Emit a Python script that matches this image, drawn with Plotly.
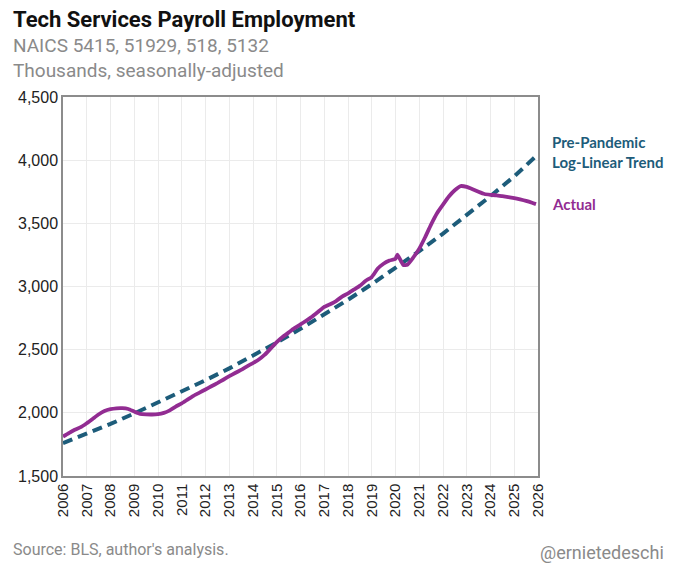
import plotly.graph_objects as go

# Actual tech services payroll employment, thousands
actual_dates = [
    "2006-01-01", "2006-04-01", "2006-07-01", "2006-10-01",
    "2007-01-01", "2007-04-01", "2007-07-01", "2007-10-01",
    "2008-01-01", "2008-04-01", "2008-07-01", "2008-10-01",
    "2009-01-01", "2009-04-01", "2009-07-01", "2009-10-01",
    "2010-01-01", "2010-04-01", "2010-07-01", "2010-10-01",
    "2011-01-01", "2011-04-01", "2011-07-01", "2011-10-01",
    "2012-01-01", "2012-04-01", "2012-07-01", "2012-10-01",
    "2013-01-01", "2013-04-01", "2013-07-01", "2013-10-01",
    "2014-01-01", "2014-04-01", "2014-07-01", "2014-10-01",
    "2015-01-01", "2015-04-01", "2015-07-01", "2015-10-01",
    "2016-01-01", "2016-04-01", "2016-07-01", "2016-10-01",
    "2017-01-01", "2017-04-01", "2017-07-01", "2017-10-01",
    "2018-01-01", "2018-04-01", "2018-07-01", "2018-10-01",
    "2019-01-01", "2019-04-01", "2019-07-01", "2019-10-01",
    "2020-01-01", "2020-02-01", "2020-04-01", "2020-05-01", "2020-07-01", "2020-10-01",
    "2021-01-01", "2021-04-01", "2021-07-01", "2021-10-01",
    "2022-01-01", "2022-04-01", "2022-07-01", "2022-10-01",
    "2023-01-01", "2023-04-01", "2023-07-01", "2023-10-01",
    "2024-01-01", "2024-04-01", "2024-07-01", "2024-10-01",
    "2025-01-01", "2025-04-01", "2025-07-01", "2025-10-01", "2025-12-01",
]
actual_values = [
    1812, 1840, 1866, 1887,
    1918, 1952, 1987, 2014,
    2029, 2036, 2037, 2030,
    2010, 1992, 1988, 1987,
    1990, 2000, 2020, 2050,
    2075, 2105, 2135, 2160,
    2185, 2210, 2235, 2262,
    2290, 2315, 2340, 2368,
    2394, 2422, 2460, 2510,
    2560, 2600, 2635, 2670,
    2700, 2730, 2762, 2800,
    2838, 2860, 2885, 2920,
    2945, 2975, 3005, 3045,
    3075, 3140, 3180, 3205,
    3220, 3252, 3195, 3170, 3172, 3230,
    3300, 3390, 3490, 3580,
    3648, 3712, 3762, 3795,
    3788, 3770, 3750, 3732,
    3726, 3722, 3715, 3708,
    3700, 3690, 3678, 3663, 3652,
]

# Pre-pandemic log-linear trend, thousands
trend_dates = [f"{y}-01-01" for y in range(2006, 2027)]
trend_values = [
    1760, 1835, 1912, 1995, 2080, 2168, 2258, 2352, 2452, 2556,
    2665, 2778, 2895, 3018, 3146, 3280, 3419, 3563, 3715, 3872, 4046,
]

year_ticks = [f"{y}-01-01" for y in range(2006, 2027)]
year_labels = [str(y) for y in range(2006, 2027)]

PURPLE = "#922c92"
TEAL = "#1d5c7a"

W, H = 673, 578
L, R, T, B = 63, 135, 97, 102


def px(x, y):
    # pixel position -> paper coords
    return (x - L) / (W - L - R), (H - B - y) / (H - T - B)


fig = go.Figure()
fig.add_trace(go.Scatter(
    x=trend_dates, y=trend_values, mode="lines", name="Trend",
    line=dict(color=TEAL, width=4, dash="10px,6px"),
))
fig.add_trace(go.Scatter(
    x=actual_dates, y=actual_values, mode="lines", name="Actual",
    line=dict(color=PURPLE, width=3.8, shape="spline", smoothing=0.4),
))

annos = [
    (11, 20, "<b>Tech Services Payroll Employment</b>", 22, "#111111", "Roboto"),
    (11, 46, "NAICS 5415, 51929, 518, 5132", 19, "#8a8a8a", "Roboto"),
    (11, 70, "Thousands, seasonally-adjusted", 19, "#8a8a8a", "Roboto"),
    (11, 549, "Source: BLS, author's analysis.", 16, "#8a8a8a", "Roboto"),
    (550, 152, "<b>Pre-Pandemic<br>Log-Linear Trend</b>", 15, TEAL, "Lato"),
    (550, 204, "<b>Actual</b>", 15, PURPLE, "Lato"),
]
for x, y, text, size, color, family in annos:
    ax, ay = px(x, y)
    fig.add_annotation(
        x=ax, y=ay, xref="paper", yref="paper", text=text, showarrow=False,
        xanchor="left", yanchor="middle", align="left",
        font=dict(size=size, color=color, family=family),
    )
hx, hy = px(666, 552)
fig.add_annotation(
    x=hx, y=hy, xref="paper", yref="paper", text="@ernietedeschi",
    showarrow=False, xanchor="right", yanchor="middle",
    font=dict(size=18, color="#8a8a8a", family="Roboto"),
)

fig.update_layout(
    width=W, height=H,
    margin=dict(l=L, r=R, t=T, b=B),
    paper_bgcolor="white", plot_bgcolor="white",
    showlegend=False,
)
fig.update_xaxes(
    type="date", range=["2006-01-01", "2026-01-01"],
    tickvals=year_ticks, ticktext=year_labels, tickangle=-90,
    tickfont=dict(size=15, color="#222222", family="Liberation Sans"),
    showgrid=True, gridcolor="#ebebeb", gridwidth=1,
    showline=True, linecolor="#8c8c8c", linewidth=1.5, mirror=True,
    ticks="", zeroline=False,
)
fig.update_yaxes(
    range=[1500, 4500], dtick=500, tickformat=",",
    tickfont=dict(size=16, color="#222222", family="Liberation Sans"),
    showgrid=True, gridcolor="#ebebeb", gridwidth=1,
    showline=True, linecolor="#8c8c8c", linewidth=1.5, mirror=True,
    ticks="", zeroline=False,
)

# page body has a default 8px margin; drop it so the figure fills the window
fig.write_html(
    "out.html",
    config={"displayModeBar": False},
    post_script="document.body.style.margin='0';",
)
